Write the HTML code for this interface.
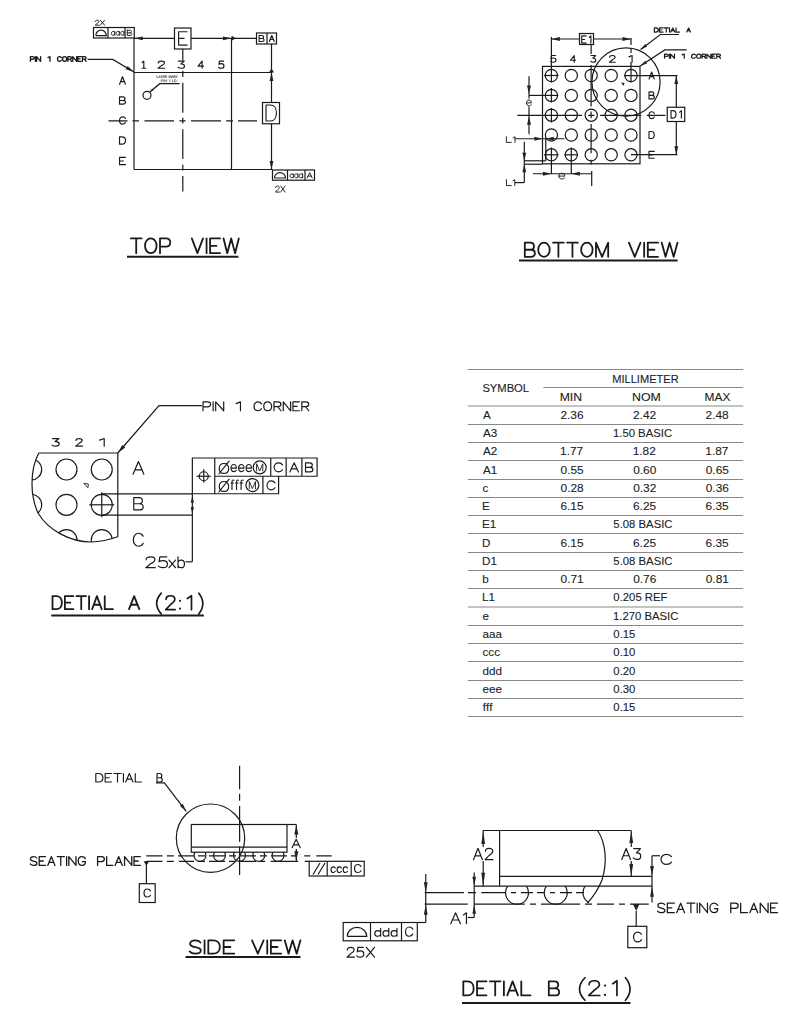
<!DOCTYPE html>
<html><head><meta charset="utf-8"><style>
html,body{margin:0;padding:0;background:#fff;}
svg{display:block;}
text{font-family:"Liberation Sans",sans-serif;fill:#222;font-kerning:none;}
path,rect,circle{fill:none;stroke:#1a1a1a;stroke-width:1.2;}
path.f,circle.dot{fill:#222;stroke:none;}
text.tb{stroke:#222;stroke-width:0.1;}
path.t{vector-effect:non-scaling-stroke;stroke-linecap:round;stroke-linejoin:round;}
</style></head><body>
<svg width="800" height="1028" viewBox="0 0 800 1028">
<path class="t" transform="translate(95.23,20.23) scale(0.6230,0.4945)" d="M 0.2,2.6 C 0.2,1 1.4,0 3.1,0 C 4.8,0 6,1 6,2.6 C 6,4 5,5 3.2,6.3 L 0,10 H 6.2 M 8.2,0 L 15,10 M 15,0 L 8.2,10" style="stroke-width:0.95;"/>
<rect x="93.50" y="27.50" width="40.80" height="10.50"/>
<path d="M108.00,27.50 V38.00"/>
<path d="M125.00,27.50 V38.00"/>
<path d="M95.80,35.60 H106.30 A5.25,5.40 0 0 0 95.80,35.60"/>
<path class="t" transform="translate(111.33,29.78) scale(0.5965,0.5493)" d="M 5.6,3 V 10 M 5.6,4.6 C 5,3.6 4.1,3 3,3 C 1.2,3 0,4.5 0,6.5 C 0,8.5 1.2,10 3,10 C 4.1,10 5,9.4 5.6,8.4 M 13.4,3 V 10 M 13.4,4.6 C 12.8,3.6 11.9,3 10.8,3 C 9,3 7.8,4.5 7.8,6.5 C 7.8,8.5 9,10 10.8,10 C 11.9,10 12.8,9.4 13.4,8.4 M 21.2,3 V 10 M 21.2,4.6 C 20.6,3.6 19.7,3 18.6,3 C 16.8,3 15.6,4.5 15.6,6.5 C 15.6,8.5 16.8,10 18.6,10 C 19.7,10 20.6,9.4 21.2,8.4" style="stroke-width:0.95;"/>
<path class="t" transform="translate(127.23,30.23) scale(0.7038,0.5245)" d="M 0,0 V 10 H 4 C 5.6,10 6.6,9 6.6,7.5 C 6.6,6 5.6,5 4,5 H 0 M 0,0 H 3.6 C 5.1,0 6,0.9 6,2.5 C 6,4.1 5.1,5 3.6,5" style="stroke-width:0.95;"/>
<path d="M134.00,38.30 H174.50 M191.00,38.30 H256.50"/>
<path class="f" d="M134.30,38.30 L142.80,36.40 L142.80,40.20 Z"/>
<path class="f" d="M231.50,38.30 L223.00,40.20 L223.00,36.40 Z"/>
<path class="f" d="M231.50,35.80 L236.00,38.30 L231.50,40.80 Z"/>
<rect x="174.50" y="28.00" width="16.50" height="21.00"/>
<path class="t" transform="translate(178.62,31.72) scale(1.3653,1.3365)" d="M 6.2,0 H 0 V 10 H 6.2 M 0,5 H 4" style="stroke-width:1.15;"/>
<rect x="256.50" y="33.00" width="20.00" height="11.00"/>
<path d="M267.00,33.00 V44.00"/>
<path class="t" transform="translate(259.12,35.52) scale(0.7523,0.5965)" d="M 0,0 V 10 H 4 C 5.6,10 6.6,9 6.6,7.5 C 6.6,6 5.6,5 4,5 H 0 M 0,0 H 3.6 C 5.1,0 6,0.9 6,2.5 C 6,4.1 5.1,5 3.6,5" style="stroke-width:1.15;"/>
<path class="t" transform="translate(269.32,35.52) scale(0.7093,0.5965)" d="M 0,10 L 3.5,0 L 7,10 M 1.25,6.6 H 5.75" style="stroke-width:1.15;"/>
<path d="M134.00,38.00 V169.50"/>
<path d="M231.50,38.30 V169.50"/>
<path d="M134.00,72.50 H271.50"/>
<path d="M134.00,169.50 H272.50"/>
<path d="M271.50,44.00 V102.50 M271.50,123.75 V169.50"/>
<path class="f" d="M269.00,72.50 L271.50,68.20 L274.00,72.50 Z"/>
<path class="f" d="M271.50,72.50 L273.40,81.00 L269.60,81.00 Z"/>
<path class="f" d="M271.50,169.50 L269.60,161.00 L273.40,161.00 Z"/>
<rect x="262.50" y="102.50" width="17.00" height="21.25"/>
<path class="t" transform="translate(266.02,105.02) scale(1.5390,1.5965)" d="M 0,0 V 10 H 2.8 C 5.2,10 6.8,8 6.8,5 C 6.8,2 5.2,0 2.8,0 Z" style="stroke-width:1.15;"/>
<rect x="272.50" y="170.00" width="42.00" height="10.20"/>
<path d="M287.50,170.00 V180.20"/>
<path d="M305.00,170.00 V180.20"/>
<path d="M274.50,178.00 H285.50 A5.50,5.40 0 0 0 274.50,178.00"/>
<path class="t" transform="translate(289.93,172.14) scale(0.5965,0.5636)" d="M 5.6,3 V 10 M 5.6,4.6 C 5,3.6 4.1,3 3,3 C 1.2,3 0,4.5 0,6.5 C 0,8.5 1.2,10 3,10 C 4.1,10 5,9.4 5.6,8.4 M 13.4,3 V 10 M 13.4,4.6 C 12.8,3.6 11.9,3 10.8,3 C 9,3 7.8,4.5 7.8,6.5 C 7.8,8.5 9,10 10.8,10 C 11.9,10 12.8,9.4 13.4,8.4 M 21.2,3 V 10 M 21.2,4.6 C 20.6,3.6 19.7,3 18.6,3 C 16.8,3 15.6,4.5 15.6,6.5 C 15.6,8.5 16.8,10 18.6,10 C 19.7,10 20.6,9.4 21.2,8.4" style="stroke-width:0.95;"/>
<path class="t" transform="translate(307.23,172.63) scale(0.7064,0.5245)" d="M 0,10 L 3.5,0 L 7,10 M 1.25,6.6 H 5.75" style="stroke-width:0.95;"/>
<path class="t" transform="translate(275.43,186.03) scale(0.6430,0.6045)" d="M 0.2,2.6 C 0.2,1 1.4,0 3.1,0 C 4.8,0 6,1 6,2.6 C 6,4 5,5 3.2,6.3 L 0,10 H 6.2 M 8.2,0 L 15,10 M 15,0 L 8.2,10" style="stroke-width:0.95;"/>
<path class="t" transform="translate(141.52,61.12) scale(1.0434,0.7165)" d="M 0.6,2 L 2.2,0 V 10 M 0.6,10 H 3.8" style="stroke-width:1.15;"/>
<path class="t" transform="translate(158.02,61.12) scale(1.0775,0.7165)" d="M 0.2,2.6 C 0.2,1 1.4,0 3.1,0 C 4.8,0 6,1 6,2.6 C 6,4 5,5 3.2,6.3 L 0,10 H 6.2" style="stroke-width:1.15;"/>
<path class="t" transform="translate(178.02,61.12) scale(1.0775,0.7165)" d="M 0.4,0 H 5.8 L 2.6,4 H 3.2 C 5,4 6,5.2 6,7 C 6,8.8 4.8,10 3,10 C 1.6,10 0.6,9.4 0,8.6" style="stroke-width:1.15;"/>
<path class="t" transform="translate(198.02,61.12) scale(0.8539,0.7165)" d="M 4.8,10 V 0 L 0,7 H 6.4" style="stroke-width:1.15;"/>
<path class="t" transform="translate(218.52,61.12) scale(0.9108,0.7165)" d="M 5.6,0 H 1 L 0.5,4.5 C 1.1,3.9 2,3.6 3,3.6 C 4.8,3.6 6,4.9 6,6.8 C 6,8.7 4.8,10 3,10 C 1.6,10 0.6,9.4 0,8.6" style="stroke-width:1.15;"/>
<path class="t" transform="translate(119.52,76.82) scale(0.8521,0.7365)" d="M 0,10 L 3.5,0 L 7,10 M 1.25,6.6 H 5.75" style="stroke-width:1.15;"/>
<path class="t" transform="translate(119.52,96.82) scale(0.9038,0.7365)" d="M 0,0 V 10 H 4 C 5.6,10 6.6,9 6.6,7.5 C 6.6,6 5.6,5 4,5 H 0 M 0,0 H 3.6 C 5.1,0 6,0.9 6,2.5 C 6,4.1 5.1,5 3.6,5" style="stroke-width:1.15;"/>
<path class="t" transform="translate(119.52,116.82) scale(0.8521,0.7365)" d="M 7,2.3 C 6.3,0.8 5.1,0 3.7,0 C 1.6,0 0,2.1 0,5 C 0,7.9 1.6,10 3.7,10 C 5.1,10 6.3,9.2 7,7.7" style="stroke-width:1.15;"/>
<path class="t" transform="translate(119.52,136.82) scale(0.8772,0.7365)" d="M 0,0 V 10 H 2.8 C 5.2,10 6.8,8 6.8,5 C 6.8,2 5.2,0 2.8,0 Z" style="stroke-width:1.15;"/>
<path class="t" transform="translate(119.52,157.32) scale(0.9621,0.7365)" d="M 6.2,0 H 0 V 10 H 6.2 M 0,5 H 4" style="stroke-width:1.15;"/>
<path class="t" transform="translate(30.39,56.59) scale(0.5683,0.4730)" d="M 0,10 V 0 H 3.8 C 5.6,0 6.6,1.1 6.6,2.8 C 6.6,4.5 5.6,5.6 3.8,5.6 H 0 M 8.8,0 V 10 M 11,10 V 0 L 18,10 V 0" style="stroke-width:1.3;"/>
<path class="t" transform="translate(47.98,56.59) scale(0.9227,0.4730)" d="M 0,2 L 2.2,0 V 10" style="stroke-width:1.3;"/>
<path class="t" transform="translate(57.48,56.59) scale(0.5516,0.4730)" d="M 7,2.3 C 6.3,0.8 5.1,0 3.7,0 C 1.6,0 0,2.1 0,5 C 0,7.9 1.6,10 3.7,10 C 5.1,10 6.3,9.2 7,7.7 M 12.95,0 C 10.8,0 9.2,2.1 9.2,5 C 9.2,7.9 10.8,10 12.95,10 C 15.1,10 16.7,7.9 16.7,5 C 16.7,2.1 15.1,0 12.95,0 Z M 18.9,10 V 0 H 22.7 C 24.5,0 25.5,1.1 25.5,2.7 C 25.5,4.3 24.5,5.3 22.7,5.3 H 18.9 M 22.5,5.3 L 25.5,10 M 27.7,10 V 0 L 34.7,10 V 0 M 43.1,0 H 36.9 V 10 H 43.1 M 36.9,5 H 40.9 M 45.3,10 V 0 H 49.1 C 50.9,0 51.9,1.1 51.9,2.7 C 51.9,4.3 50.9,5.3 49.1,5.3 H 45.3 M 48.9,5.3 L 51.9,10" style="stroke-width:1.3;"/>
<path d="M87.50,59.40 L112.75,59.40 L134.00,72.00"/>
<path class="f" d="M134.00,72.00 L125.72,69.30 L127.66,66.03 Z"/>
<path d="M108.50,120.80 H127.50 M132.50,120.80 H139.00 M144.50,120.80 H174.00 M179.50,120.80 H185.50 M191.00,120.80 H221.00 M226.20,120.80 H233.00 M238.00,120.80 H257.00"/>
<path d="M182.80,49.00 V60.60 M182.80,70.70 V76.90 M182.80,82.70 V112.70 M182.80,117.80 V123.50 M182.80,129.30 V158.90 M182.80,164.70 V170.60 M182.80,176.00 V191.60"/>
<path class="t" transform="translate(156.77,75.57) scale(0.2164,0.2060)" d="M 0,0 V 10 H 6 M 9.5,10 L 13,0 L 16.5,10 M 10.75,6.6 H 15.25 M 26.4,1.6 C 25.8,0.6 24.8,0 23.4,0 C 21.5,0 20.3,1 20.3,2.6 C 20.3,4.2 21.6,4.8 23.4,5.1 C 25.3,5.5 26.6,6.2 26.6,7.7 C 26.6,9.2 25.3,10 23.4,10 C 21.9,10 20.7,9.4 20,8.3 M 36.3,0 H 30.1 V 10 H 36.3 M 30.1,5 H 34.1 M 39.8,10 V 0 H 43.6 C 45.4,0 46.4,1.1 46.4,2.7 C 46.4,4.3 45.4,5.3 43.6,5.3 H 39.8 M 43.4,5.3 L 46.4,10 M 56.4,10 V 0 L 60.4,10 L 64.4,0 V 10 M 67.9,10 L 71.4,0 L 74.9,10 M 69.15,6.6 H 73.65 M 78.4,10 V 0 H 82.2 C 84,0 85,1.1 85,2.7 C 85,4.3 84,5.3 82.2,5.3 H 78.4 M 82,5.3 L 85,10 M 88.5,0 V 10 M 95,0 L 88.5,6.5 M 90.8,4.3 L 95,10" style="stroke-width:0.6;stroke:#555;"/>
<path class="t" transform="translate(161.27,79.67) scale(0.2637,0.2160)" d="M 0,10 V 0 H 3.8 C 5.6,0 6.6,1.1 6.6,2.8 C 6.6,4.5 5.6,5.6 3.8,5.6 H 0 M 10.1,0 V 10 M 13.6,10 V 0 L 20.6,10 V 0 M 30.6,2 L 32.8,0 V 10 M 42.8,0 V 10 M 46.3,9.6 h 0.4 M 50.2,0 V 10 H 53 C 55.4,10 57,8 57,5 C 57,2 55.4,0 53,0 Z M 60.5,9.6 h 0.4" style="stroke-width:0.6;stroke:#555;"/>
<path d="M179.50,83.70 L159.75,83.70 L149.80,92.00"/>
<path class="f" d="M149.80,92.00 L152.23,88.67 L153.51,90.21 Z"/>
<circle cx="147.00" cy="95.30" r="4.00"/>
<path class="t" transform="translate(130.81,238.41) scale(1.5443,1.4780)" d="M 0,0 H 7 M 3.5,0 V 10 M 12.95,0 C 10.8,0 9.2,2.1 9.2,5 C 9.2,7.9 10.8,10 12.95,10 C 15.1,10 16.7,7.9 16.7,5 C 16.7,2.1 15.1,0 12.95,0 Z M 18.9,10 V 0 H 22.7 C 24.5,0 25.5,1.1 25.5,2.8 C 25.5,4.5 24.5,5.6 22.7,5.6 H 18.9" style="stroke-width:1.8;"/>
<path class="t" transform="translate(191.81,238.41) scale(1.6034,1.4780)" d="M 0,0 L 3.5,10 L 7,0 M 9.2,0 V 10 M 17.6,0 H 11.4 V 10 H 17.6 M 11.4,5 H 15.4 M 19.8,0 L 22.1,10 L 24.55,0 L 27,10 L 29.3,0" style="stroke-width:1.8;"/>
<path d="M127.00,256.80 H238.40" style="stroke-width:2;"/>
<rect x="542.50" y="66.40" width="97.50" height="97.40"/>
<circle cx="551.40" cy="75.50" r="6.10"/>
<circle cx="551.40" cy="95.40" r="6.10"/>
<circle cx="551.40" cy="115.20" r="6.10"/>
<circle cx="551.40" cy="135.00" r="6.10"/>
<circle cx="551.40" cy="154.80" r="6.10"/>
<circle cx="571.30" cy="75.50" r="6.10"/>
<circle cx="571.30" cy="95.40" r="6.10"/>
<circle cx="571.30" cy="115.20" r="6.10"/>
<circle cx="571.30" cy="135.00" r="6.10"/>
<circle cx="571.30" cy="154.80" r="6.10"/>
<circle cx="591.20" cy="75.50" r="6.10"/>
<circle cx="591.20" cy="95.40" r="6.10"/>
<circle cx="591.20" cy="115.20" r="6.10"/>
<circle cx="591.20" cy="135.00" r="6.10"/>
<circle cx="591.20" cy="154.80" r="6.10"/>
<circle cx="611.20" cy="75.50" r="6.10"/>
<circle cx="611.20" cy="95.40" r="6.10"/>
<circle cx="611.20" cy="115.20" r="6.10"/>
<circle cx="611.20" cy="135.00" r="6.10"/>
<circle cx="611.20" cy="154.80" r="6.10"/>
<circle cx="631.00" cy="75.50" r="6.10"/>
<circle cx="631.00" cy="95.40" r="6.10"/>
<circle cx="631.00" cy="115.20" r="6.10"/>
<circle cx="631.00" cy="135.00" r="6.10"/>
<circle cx="631.00" cy="154.80" r="6.10"/>
<path class="t" transform="translate(550.52,55.52) scale(0.9108,0.6765)" d="M 5.6,0 H 1 L 0.5,4.5 C 1.1,3.9 2,3.6 3,3.6 C 4.8,3.6 6,4.9 6,6.8 C 6,8.7 4.8,10 3,10 C 1.6,10 0.6,9.4 0,8.6" style="stroke-width:1.15;"/>
<path class="t" transform="translate(570.52,55.52) scale(0.7758,0.6765)" d="M 4.8,10 V 0 L 0,7 H 6.4" style="stroke-width:1.15;"/>
<path class="t" transform="translate(590.77,55.52) scale(0.8275,0.6765)" d="M 0.4,0 H 5.8 L 2.6,4 H 3.2 C 5,4 6,5.2 6,7 C 6,8.8 4.8,10 3,10 C 1.6,10 0.6,9.4 0,8.6" style="stroke-width:1.15;"/>
<path class="t" transform="translate(609.52,55.52) scale(0.9275,0.6765)" d="M 0.2,2.6 C 0.2,1 1.4,0 3.1,0 C 4.8,0 6,1 6,2.6 C 6,4 5,5 3.2,6.3 L 0,10 H 6.2" style="stroke-width:1.15;"/>
<path class="t" transform="translate(628.92,55.52) scale(1.4386,0.6765)" d="M 0,2 L 2.2,0 V 10" style="stroke-width:1.15;"/>
<path class="t" transform="translate(649.02,72.02) scale(0.7521,0.6965)" d="M 0,10 L 3.5,0 L 7,10 M 1.25,6.6 H 5.75" style="stroke-width:1.15;"/>
<path class="t" transform="translate(649.02,91.92) scale(0.7977,0.6965)" d="M 0,0 V 10 H 4 C 5.6,10 6.6,9 6.6,7.5 C 6.6,6 5.6,5 4,5 H 0 M 0,0 H 3.6 C 5.1,0 6,0.9 6,2.5 C 6,4.1 5.1,5 3.6,5" style="stroke-width:1.15;"/>
<path class="t" transform="translate(649.02,111.72) scale(0.7521,0.6965)" d="M 7,2.3 C 6.3,0.8 5.1,0 3.7,0 C 1.6,0 0,2.1 0,5 C 0,7.9 1.6,10 3.7,10 C 5.1,10 6.3,9.2 7,7.7" style="stroke-width:1.15;"/>
<path class="t" transform="translate(649.02,131.52) scale(0.7743,0.6965)" d="M 0,0 V 10 H 2.8 C 5.2,10 6.8,8 6.8,5 C 6.8,2 5.2,0 2.8,0 Z" style="stroke-width:1.15;"/>
<path class="t" transform="translate(649.02,151.32) scale(0.8492,0.6965)" d="M 6.2,0 H 0 V 10 H 6.2 M 0,5 H 4" style="stroke-width:1.15;"/>
<path d="M551.40,39.00 H579.40 M594.00,39.00 H631.00"/>
<path class="f" d="M551.40,39.00 L559.90,37.10 L559.90,40.90 Z"/>
<path class="f" d="M631.00,39.00 L622.50,40.90 L622.50,37.10 Z"/>
<rect x="579.50" y="33.50" width="14.00" height="11.00"/>
<path class="t" transform="translate(581.72,35.82) scale(0.7202,0.7265)" d="M 6.2,0 H 0 V 10 H 6.2 M 0,5 H 4" style="stroke-width:1.15;"/>
<path class="t" transform="translate(589.32,35.82) scale(0.7114,0.7265)" d="M 0,2 L 2.2,0 V 10" style="stroke-width:1.15;"/>
<path d="M551.40,37.00 V82.50"/>
<path d="M631.00,38.00 V45.00 M631.00,48.00 V53.00 M631.00,62.00 V82.50"/>
<circle cx="626.00" cy="82.00" r="34.10"/>
<path class="t" transform="translate(654.34,27.94) scale(0.5709,0.4120)" d="M 0,0 V 10 H 2.8 C 5.2,10 6.8,8 6.8,5 C 6.8,2 5.2,0 2.8,0 Z M 15.2,0 H 9 V 10 H 15.2 M 9,5 H 13 M 17.4,0 H 24.4 M 20.9,0 V 10 M 26.6,0 V 10 M 28.8,10 L 32.3,0 L 35.8,10 M 30.05,6.6 H 34.55 M 38,0 V 10 H 44" style="stroke-width:1.2;"/>
<path class="t" transform="translate(686.74,27.94) scale(0.5314,0.4120)" d="M 0,10 L 3.5,0 L 7,10 M 1.25,6.6 H 5.75" style="stroke-width:1.2;"/>
<path d="M679.00,34.50 L660.40,34.50 L640.60,49.40"/>
<path class="f" d="M640.60,49.40 L645.23,43.91 L647.16,46.47 Z"/>
<path class="t" transform="translate(664.54,54.04) scale(0.5511,0.4220)" d="M 0,10 V 0 H 3.8 C 5.6,0 6.6,1.1 6.6,2.8 C 6.6,4.5 5.6,5.6 3.8,5.6 H 0 M 8.8,0 V 10 M 11,10 V 0 L 18,10 V 0" style="stroke-width:1.2;"/>
<path class="t" transform="translate(682.14,54.04) scale(0.9636,0.4220)" d="M 0,2 L 2.2,0 V 10" style="stroke-width:1.2;"/>
<path class="t" transform="translate(691.54,54.04) scale(0.5572,0.4220)" d="M 7,2.3 C 6.3,0.8 5.1,0 3.7,0 C 1.6,0 0,2.1 0,5 C 0,7.9 1.6,10 3.7,10 C 5.1,10 6.3,9.2 7,7.7 M 12.95,0 C 10.8,0 9.2,2.1 9.2,5 C 9.2,7.9 10.8,10 12.95,10 C 15.1,10 16.7,7.9 16.7,5 C 16.7,2.1 15.1,0 12.95,0 Z M 18.9,10 V 0 H 22.7 C 24.5,0 25.5,1.1 25.5,2.7 C 25.5,4.3 24.5,5.3 22.7,5.3 H 18.9 M 22.5,5.3 L 25.5,10 M 27.7,10 V 0 L 34.7,10 V 0 M 43.1,0 H 36.9 V 10 H 43.1 M 36.9,5 H 40.9 M 45.3,10 V 0 H 49.1 C 50.9,0 51.9,1.1 51.9,2.7 C 51.9,4.3 50.9,5.3 49.1,5.3 H 45.3 M 48.9,5.3 L 51.9,10" style="stroke-width:1.2;"/>
<path d="M686.60,49.90 L664.75,49.90 L640.25,66.00"/>
<path class="f" d="M640.25,66.00 L645.22,60.82 L646.98,63.49 Z"/>
<path d="M676.30,75.60 V107.25 M676.30,121.50 V154.70"/>
<path class="f" d="M676.30,75.60 L678.20,84.10 L674.40,84.10 Z"/>
<path class="f" d="M676.30,154.70 L674.40,146.20 L678.20,146.20 Z"/>
<path d="M624.00,75.60 H677.50"/>
<path d="M631.00,154.70 H677.50"/>
<rect x="667.25" y="107.25" width="17.50" height="14.25"/>
<path class="t" transform="translate(671.02,110.62) scale(0.7301,0.7465)" d="M 0,0 V 10 H 2.8 C 5.2,10 6.8,8 6.8,5 C 6.8,2 5.2,0 2.8,0 Z" style="stroke-width:1.15;"/>
<path class="t" transform="translate(679.62,110.62) scale(0.8023,0.7465)" d="M 0,2 L 2.2,0 V 10" style="stroke-width:1.15;"/>
<path d="M551.40,82.50 V82.50"/>
<path d="M544.00,75.50 H558.50"/>
<path d="M529.00,95.40 H558.30"/>
<path d="M551.40,88.00 V102.50"/>
<path d="M551.40,108.00 V122.50"/>
<path d="M551.40,147.50 V173.75"/>
<path d="M544.00,154.80 H558.50"/>
<path d="M571.30,147.50 V173.75"/>
<path d="M564.50,154.80 H578.00"/>
<path d="M517.30,115.30 H582.00 M588.20,115.30 H594.40 M600.10,115.30 H641.20 M646.80,115.30 H665.40"/>
<path d="M591.10,44.70 V54.00 M591.10,64.90 V106.50 M591.10,111.60 V118.20 M591.10,124.00 V153.20 M591.10,159.80 V164.50"/>
<path class="f" d="M621.00,82.50 L624.50,83.00 L623.50,86.00 Z"/>
<path d="M529.00,76.30 V98.50 M529.00,106.50 V134.25"/>
<path class="f" d="M529.00,93.50 L527.00,85.50 L531.00,85.50 Z"/>
<path class="t" transform="translate(526.43,97.38) scale(0.8830,0.8493)" d="M 0,6.5 H 5.6 C 5.6,4.4 4.5,3 2.9,3 C 1.2,3 0,4.5 0,6.5 C 0,8.5 1.2,10 2.9,10 C 4,10 4.9,9.5 5.5,8.6" style="stroke-width:0.95;"/>
<path class="f" d="M529.00,116.80 L531.00,124.80 L527.00,124.80 Z"/>
<path class="t" transform="translate(506.33,136.73) scale(0.8312,0.5645)" d="M 0,0 V 10 H 6 M 8.2,2 L 10.4,0 V 10" style="stroke-width:0.95;"/>
<path d="M515.00,138.75 H564.50"/>
<path class="f" d="M542.40,138.75 L534.40,140.65 L534.40,136.85 Z"/>
<path class="f" d="M545.80,138.75 L553.80,136.85 L553.80,140.65 Z"/>
<path d="M545.80,138.75 V160.80"/>
<path d="M524.30,141.70 V182.60"/>
<path class="f" d="M524.30,160.80 L522.40,152.80 L526.20,152.80 Z"/>
<path class="f" d="M524.30,164.20 L526.20,172.20 L522.40,172.20 Z"/>
<path d="M524.30,160.80 H545.80"/>
<path d="M524.30,164.20 H542.50"/>
<path d="M515.00,182.60 H524.30"/>
<path class="t" transform="translate(506.43,179.63) scale(0.8024,0.5945)" d="M 0,0 V 10 H 6 M 8.2,2 L 10.4,0 V 10" style="stroke-width:0.95;"/>
<path d="M532.90,173.75 H591.70"/>
<path class="f" d="M551.40,173.75 L542.90,175.65 L542.90,171.85 Z"/>
<path class="f" d="M571.30,173.75 L579.80,171.85 L579.80,175.65 Z"/>
<path d="M591.70,171.00 V186.00"/>
<path class="t" transform="translate(558.83,170.77) scale(1.0616,0.8207)" d="M 0,6.5 H 5.6 C 5.6,4.4 4.5,3 2.9,3 C 1.2,3 0,4.5 0,6.5 C 0,8.5 1.2,10 2.9,10 C 4,10 4.9,9.5 5.5,8.6" style="stroke-width:0.95;"/>
<path class="t" transform="translate(524.81,242.71) scale(1.5271,1.4080)" d="M 0,0 V 10 H 4 C 5.6,10 6.6,9 6.6,7.5 C 6.6,6 5.6,5 4,5 H 0 M 0,0 H 3.6 C 5.1,0 6,0.9 6,2.5 C 6,4.1 5.1,5 3.6,5 M 12.55,0 C 10.4,0 8.8,2.1 8.8,5 C 8.8,7.9 10.4,10 12.55,10 C 14.7,10 16.3,7.9 16.3,5 C 16.3,2.1 14.7,0 12.55,0 Z M 18.5,0 H 25.5 M 22,0 V 10 M 27.7,0 H 34.7 M 31.2,0 V 10 M 40.65,0 C 38.5,0 36.9,2.1 36.9,5 C 36.9,7.9 38.5,10 40.65,10 C 42.8,10 44.4,7.9 44.4,5 C 44.4,2.1 42.8,0 40.65,0 Z M 46.6,10 V 0 L 50.6,10 L 54.6,0 V 10" style="stroke-width:1.8;"/>
<path class="t" transform="translate(628.91,242.71) scale(1.6580,1.4080)" d="M 0,0 L 3.5,10 L 7,0 M 9.2,0 V 10 M 17.6,0 H 11.4 V 10 H 17.6 M 11.4,5 H 15.4 M 19.8,0 L 22.1,10 L 24.55,0 L 27,10 L 29.3,0" style="stroke-width:1.8;"/>
<path d="M519.00,260.50 H677.60" style="stroke-width:2;"/>
<clipPath id="clipA"><path d="M38.75,453 H117.8 V536.75 C110,539.6 100,541.8 91.25,542 C70,542 48,530 38,513 C33.5,503 32,493 32,483.5 C32,472 34.5,461 38.75,453 Z"/></clipPath>
<path d="M38.75,453 H117.8 V536.75 C110,539.6 100,541.8 91.25,542 C70,542 48,530 38,513 C33.5,503 32,493 32,483.5 C32,472 34.5,461 38.75,453"/>
<g clip-path="url(#clipA)">
<circle cx="31.20" cy="469.50" r="10.50"/>
<circle cx="31.20" cy="504.80" r="10.50"/>
<circle cx="31.20" cy="540.10" r="10.50"/>
<circle cx="66.50" cy="469.50" r="10.50"/>
<circle cx="66.50" cy="504.80" r="10.50"/>
<circle cx="66.50" cy="540.10" r="10.50"/>
<circle cx="101.75" cy="469.50" r="10.50"/>
<circle cx="101.75" cy="504.80" r="10.50"/>
<circle cx="101.75" cy="540.10" r="10.50"/>
</g>
<path class="t" transform="translate(52.04,438.54) scale(1.1950,0.7620)" d="M 0.4,0 H 5.8 L 2.6,4 H 3.2 C 5,4 6,5.2 6,7 C 6,8.8 4.8,10 3,10 C 1.6,10 0.6,9.4 0,8.6" style="stroke-width:1.2;"/>
<path class="t" transform="translate(75.74,438.54) scale(1.0700,0.7620)" d="M 0.2,2.6 C 0.2,1 1.4,0 3.1,0 C 4.8,0 6,1 6,2.6 C 6,4 5,5 3.2,6.3 L 0,10 H 6.2" style="stroke-width:1.2;"/>
<path class="t" transform="translate(99.54,438.54) scale(2.1227,0.7620)" d="M 0,2 L 2.2,0 V 10" style="stroke-width:1.2;"/>
<path d="M83.8,483.3 L88.4,484.1 L87.9,487.8 Z" style="stroke-width:0.9"/>
<path d="M89.30,504.80 H114.20"/>
<path d="M101.75,492.20 V517.25"/>
<path d="M101.75,493.90 H192.35"/>
<path d="M101.75,515.10 H192.35"/>
<path class="t" transform="translate(133.04,461.54) scale(1.5457,1.2620)" d="M 0,10 L 3.5,0 L 7,10 M 1.25,6.6 H 5.75" style="stroke-width:1.2;"/>
<path class="t" transform="translate(133.79,497.54) scale(1.4273,1.2420)" d="M 0,0 V 10 H 4 C 5.6,10 6.6,9 6.6,7.5 C 6.6,6 5.6,5 4,5 H 0 M 0,0 H 3.6 C 5.1,0 6,0.9 6,2.5 C 6,4.1 5.1,5 3.6,5" style="stroke-width:1.2;"/>
<path class="t" transform="translate(133.34,533.24) scale(1.4100,1.3020)" d="M 7,2.3 C 6.3,0.8 5.1,0 3.7,0 C 1.6,0 0,2.1 0,5 C 0,7.9 1.6,10 3.7,10 C 5.1,10 6.3,9.2 7,7.7" style="stroke-width:1.2;"/>
<path class="t" transform="translate(203.04,401.84) scale(1.1483,0.8920)" d="M 0,10 V 0 H 3.8 C 5.6,0 6.6,1.1 6.6,2.8 C 6.6,4.5 5.6,5.6 3.8,5.6 H 0 M 8.8,0 V 10 M 11,10 V 0 L 18,10 V 0" style="stroke-width:1.2;"/>
<path class="t" transform="translate(236.04,401.84) scale(2.0091,0.8920)" d="M 0,2 L 2.2,0 V 10" style="stroke-width:1.2;"/>
<path class="t" transform="translate(254.04,401.84) scale(1.0543,0.8920)" d="M 7,2.3 C 6.3,0.8 5.1,0 3.7,0 C 1.6,0 0,2.1 0,5 C 0,7.9 1.6,10 3.7,10 C 5.1,10 6.3,9.2 7,7.7 M 12.95,0 C 10.8,0 9.2,2.1 9.2,5 C 9.2,7.9 10.8,10 12.95,10 C 15.1,10 16.7,7.9 16.7,5 C 16.7,2.1 15.1,0 12.95,0 Z M 18.9,10 V 0 H 22.7 C 24.5,0 25.5,1.1 25.5,2.7 C 25.5,4.3 24.5,5.3 22.7,5.3 H 18.9 M 22.5,5.3 L 25.5,10 M 27.7,10 V 0 L 34.7,10 V 0 M 43.1,0 H 36.9 V 10 H 43.1 M 36.9,5 H 40.9 M 45.3,10 V 0 H 49.1 C 50.9,0 51.9,1.1 51.9,2.7 C 51.9,4.3 50.9,5.3 49.1,5.3 H 45.3 M 48.9,5.3 L 51.9,10" style="stroke-width:1.2;"/>
<path d="M202.00,405.70 L159.00,405.70 L117.80,453.00"/>
<path class="f" d="M117.80,453.00 L122.20,444.90 L125.22,447.53 Z"/>
<path d="M192.35,458 H317.1 V476.25 H278.6 V493.75 H192.35 Z M214.75,458 V493.75 M214.75,476.25 H317.1 M270.75,458 V476.25 M286.15,458 V476.25 M301.9,458 V476.25 M262.9,476.25 V493.75"/>
<circle cx="203.75" cy="476.25" r="4.50"/>
<path d="M196.50,476.25 H210.75"/>
<path d="M203.75,469.25 V482.75"/>
<path class="t" transform="translate(218.82,461.61) scale(1.4664,1.1786)" d="M 3.5,1.6 C 1.6,1.6 0.3,3.1 0.3,6 C 0.3,8.9 1.6,10 3.5,10 C 5.4,10 6.7,8.9 6.7,6 C 6.7,3.1 5.4,1.6 3.5,1.6 Z M 0,10.5 L 7,-0.5" style="stroke-width:1.15;"/>
<path class="t" transform="translate(231.02,461.45) scale(0.9653,1.0236)" d="M 0,6.5 H 5.6 C 5.6,4.4 4.5,3 2.9,3 C 1.2,3 0,4.5 0,6.5 C 0,8.5 1.2,10 2.9,10 C 4,10 4.9,9.5 5.5,8.6 M 7.8,6.5 H 13.4 C 13.4,4.4 12.3,3 10.7,3 C 9,3 7.8,4.5 7.8,6.5 C 7.8,8.5 9,10 10.7,10 C 11.8,10 12.7,9.5 13.3,8.6 M 15.6,6.5 H 21.2 C 21.2,4.4 20.1,3 18.5,3 C 16.8,3 15.6,4.5 15.6,6.5 C 15.6,8.5 16.8,10 18.5,10 C 19.6,10 20.5,9.5 21.1,8.6" style="stroke-width:1.15;"/>
<circle cx="259.70" cy="467.40" r="6.50"/>
<path class="t" transform="translate(256.60,463.80) scale(0.7738,0.7190)" d="M 0,10 V 0 L 4,10 L 8,0 V 10" style="stroke-width:0.9;"/>
<path class="t" transform="translate(274.12,462.82) scale(1.1950,0.9065)" d="M 7,2.3 C 6.3,0.8 5.1,0 3.7,0 C 1.6,0 0,2.1 0,5 C 0,7.9 1.6,10 3.7,10 C 5.1,10 6.3,9.2 7,7.7" style="stroke-width:1.15;"/>
<path class="t" transform="translate(289.82,462.82) scale(1.2379,0.9065)" d="M 0,10 L 3.5,0 L 7,10 M 1.25,6.6 H 5.75" style="stroke-width:1.15;"/>
<path class="t" transform="translate(305.52,462.82) scale(1.1311,0.9065)" d="M 0,0 V 10 H 4 C 5.6,10 6.6,9 6.6,7.5 C 6.6,6 5.6,5 4,5 H 0 M 0,0 H 3.6 C 5.1,0 6,0.9 6,2.5 C 6,4.1 5.1,5 3.6,5" style="stroke-width:1.15;"/>
<path class="t" transform="translate(218.82,479.61) scale(1.4664,1.1786)" d="M 3.5,1.6 C 1.6,1.6 0.3,3.1 0.3,6 C 0.3,8.9 1.6,10 3.5,10 C 5.4,10 6.7,8.9 6.7,6 C 6.7,3.1 5.4,1.6 3.5,1.6 Z M 0,10.5 L 7,-0.5" style="stroke-width:1.15;"/>
<path class="t" transform="translate(231.02,480.02) scale(0.7357,0.9365)" d="M 4,0.2 C 3.7,0.1 3.3,0 3,0 C 1.9,0 1.3,0.6 1.3,2 V 10 M 0,3.2 H 3.4 M 10.2,0.2 C 9.9,0.1 9.5,0 9.2,0 C 8.1,0 7.5,0.6 7.5,2 V 10 M 6.2,3.2 H 9.6 M 16.4,0.2 C 16.1,0.1 15.7,0 15.4,0 C 14.3,0 13.7,0.6 13.7,2 V 10 M 12.4,3.2 H 15.8" style="stroke-width:1.15;"/>
<circle cx="252.40" cy="485.10" r="6.50"/>
<path class="t" transform="translate(249.31,481.50) scale(0.7737,0.7190)" d="M 0,10 V 0 L 4,10 L 8,0 V 10" style="stroke-width:0.9;"/>
<path class="t" transform="translate(267.02,480.82) scale(1.1379,0.9065)" d="M 7,2.3 C 6.3,0.8 5.1,0 3.7,0 C 1.6,0 0,2.1 0,5 C 0,7.9 1.6,10 3.7,10 C 5.1,10 6.3,9.2 7,7.7" style="stroke-width:1.15;"/>
<path d="M192.35,493.75 V561.80"/>
<path class="f" d="M192.35,495.80 L193.95,502.80 L190.75,502.80 Z"/>
<path class="f" d="M192.35,513.90 L190.75,506.90 L193.95,506.90 Z"/>
<path d="M185.50,561.80 H192.35"/>
<path class="t" transform="translate(145.79,556.79) scale(1.5261,1.0920)" d="M 0.2,2.6 C 0.2,1 1.4,0 3.1,0 C 4.8,0 6,1 6,2.6 C 6,4 5,5 3.2,6.3 L 0,10 H 6.2 M 13.8,0 H 9.2 L 8.7,4.5 C 9.3,3.9 10.2,3.6 11.2,3.6 C 13,3.6 14.2,4.9 14.2,6.8 C 14.2,8.7 13,10 11.2,10 C 9.8,10 8.8,9.4 8.2,8.6" style="stroke-width:1.2;"/>
<path class="t" transform="translate(169.04,556.79) scale(1.1507,1.0920)" d="M 0,3 L 5.6,10 M 5.6,3 L 0,10 M 7.8,0 V 10 M 7.8,4.6 C 8.4,3.6 9.3,3 10.4,3 C 12.2,3 13.4,4.5 13.4,6.5 C 13.4,8.5 12.2,10 10.4,10 C 9.3,10 8.4,9.4 7.8,8.4" style="stroke-width:1.2;"/>
<path class="t" transform="translate(52.51,596.11) scale(1.3745,1.3080)" d="M 0,0 V 10 H 2.8 C 5.2,10 6.8,8 6.8,5 C 6.8,2 5.2,0 2.8,0 Z M 15.2,0 H 9 V 10 H 15.2 M 9,5 H 13 M 17.4,0 H 24.4 M 20.9,0 V 10 M 26.6,0 V 10 M 28.8,10 L 32.3,0 L 35.8,10 M 30.05,6.6 H 34.55 M 38,0 V 10 H 44" style="stroke-width:1.8;"/>
<path class="t" transform="translate(129.01,596.11) scale(1.4686,1.3080)" d="M 0,10 L 3.5,0 L 7,10 M 1.25,6.6 H 5.75" style="stroke-width:1.8;"/>
<path class="t" transform="translate(156.66,595.12) scale(1.7962,1.6266)" d="M 2.6,-1.2 C 0.9,0.8 0,3 0,5.2 C 0,7.4 0.9,9.6 2.6,11.6" style="stroke-width:1.7;"/>
<path class="t" transform="translate(165.76,595.76) scale(1.5117,1.3870)" d="M 0.2,2.6 C 0.2,1 1.4,0 3.1,0 C 4.8,0 6,1 6,2.6 C 6,4 5,5 3.2,6.3 L 0,10 H 6.2" style="stroke-width:1.7;"/>
<circle class="dot" cx="180.0" cy="600.8" r="1.15"/><circle class="dot" cx="180.0" cy="608.6" r="1.15"/>
<path class="t" transform="translate(187.36,595.76) scale(1.8727,1.3870)" d="M 0,2 L 2.2,0 V 10" style="stroke-width:1.7;"/>
<path class="t" transform="translate(198.76,595.12) scale(1.5654,1.6266)" d="M 0,-1.2 C 1.7,0.8 2.6,3 2.6,5.2 C 2.6,7.4 1.7,9.6 0,11.6" style="stroke-width:1.7;"/>
<path d="M51.25,615.60 H203.80" style="stroke-width:2;"/>
<path d="M467.75,369.50 H743.2 M467.75,406.00 H743.2 M467.75,424.50 H743.2 M467.75,442.50 H743.2 M467.75,460.50 H743.2 M467.75,479.50 H743.2 M467.75,497.50 H743.2 M467.75,515.50 H743.2 M467.75,533.50 H743.2 M467.75,552.50 H743.2 M467.75,570.50 H743.2 M467.75,588.50 H743.2 M467.75,607.00 H743.2 M467.75,625.50 H743.2 M467.75,643.50 H743.2 M467.75,661.50 H743.2 M467.75,680.50 H743.2 M467.75,698.50 H743.2 M467.75,716.50 H743.2 M543.3,387.5 H743.2" style="stroke:#888"/>
<text class="tb" transform="translate(482.39,391.90) scale(1.019,1)" font-size="11.00">SYMBOL</text>
<text class="tb" transform="translate(612.24,382.75) scale(1.008,1)" font-size="11.00">MILLIMETER</text>
<text class="tb" transform="translate(559.65,400.70) scale(1.114,1)" font-size="11.00">MIN</text>
<text class="tb" transform="translate(632.09,400.70) scale(1.123,1)" font-size="11.00">NOM</text>
<text class="tb" transform="translate(704.62,400.70) scale(1.086,1)" font-size="11.00">MAX</text>
<text class="tb" transform="translate(482.98,418.85) scale(1.060,1)" font-size="11.00">A</text>
<text class="tb" transform="translate(560.40,418.85) scale(1.080,1)" font-size="11.00">2.36</text>
<text class="tb" transform="translate(633.00,418.85) scale(1.080,1)" font-size="11.00">2.42</text>
<text class="tb" transform="translate(705.60,418.85) scale(1.080,1)" font-size="11.00">2.48</text>
<text class="tb" transform="translate(482.98,437.10) scale(1.060,1)" font-size="11.00">A3</text>
<text class="tb" transform="translate(612.94,437.10) scale(1.030,1)" font-size="11.00">1.50 BASIC</text>
<text class="tb" transform="translate(482.98,455.10) scale(1.060,1)" font-size="11.00">A2</text>
<text class="tb" transform="translate(560.10,455.10) scale(1.080,1)" font-size="11.00">1.77</text>
<text class="tb" transform="translate(632.70,455.10) scale(1.080,1)" font-size="11.00">1.82</text>
<text class="tb" transform="translate(705.30,455.10) scale(1.080,1)" font-size="11.00">1.87</text>
<text class="tb" transform="translate(482.98,473.60) scale(1.060,1)" font-size="11.00">A1</text>
<text class="tb" transform="translate(560.54,473.60) scale(1.080,1)" font-size="11.00">0.55</text>
<text class="tb" transform="translate(633.14,473.60) scale(1.080,1)" font-size="11.00">0.60</text>
<text class="tb" transform="translate(705.74,473.60) scale(1.080,1)" font-size="11.00">0.65</text>
<text class="tb" transform="translate(482.50,492.10) scale(1.060,1)" font-size="11.00">c</text>
<text class="tb" transform="translate(560.54,492.10) scale(1.080,1)" font-size="11.00">0.28</text>
<text class="tb" transform="translate(633.14,492.10) scale(1.080,1)" font-size="11.00">0.32</text>
<text class="tb" transform="translate(705.74,492.10) scale(1.080,1)" font-size="11.00">0.36</text>
<text class="tb" transform="translate(482.04,510.10) scale(1.060,1)" font-size="11.00">E</text>
<text class="tb" transform="translate(560.40,510.10) scale(1.080,1)" font-size="11.00">6.15</text>
<text class="tb" transform="translate(633.00,510.10) scale(1.080,1)" font-size="11.00">6.25</text>
<text class="tb" transform="translate(705.60,510.10) scale(1.080,1)" font-size="11.00">6.35</text>
<text class="tb" transform="translate(482.04,528.10) scale(1.060,1)" font-size="11.00">E1</text>
<text class="tb" transform="translate(613.35,528.10) scale(1.030,1)" font-size="11.00">5.08 BASIC</text>
<text class="tb" transform="translate(482.04,546.60) scale(1.060,1)" font-size="11.00">D</text>
<text class="tb" transform="translate(560.40,546.60) scale(1.080,1)" font-size="11.00">6.15</text>
<text class="tb" transform="translate(633.00,546.60) scale(1.080,1)" font-size="11.00">6.25</text>
<text class="tb" transform="translate(705.60,546.60) scale(1.080,1)" font-size="11.00">6.35</text>
<text class="tb" transform="translate(482.04,565.10) scale(1.060,1)" font-size="11.00">D1</text>
<text class="tb" transform="translate(613.35,565.10) scale(1.030,1)" font-size="11.00">5.08 BASIC</text>
<text class="tb" transform="translate(482.25,583.10) scale(1.060,1)" font-size="11.00">b</text>
<text class="tb" transform="translate(560.54,583.10) scale(1.080,1)" font-size="11.00">0.71</text>
<text class="tb" transform="translate(633.14,583.10) scale(1.080,1)" font-size="11.00">0.76</text>
<text class="tb" transform="translate(705.74,583.10) scale(1.080,1)" font-size="11.00">0.81</text>
<text class="tb" transform="translate(482.04,601.35) scale(1.060,1)" font-size="11.00">L1</text>
<text class="tb" transform="translate(613.36,601.35) scale(1.030,1)" font-size="11.00">0.205 REF</text>
<text class="tb" transform="translate(482.50,619.85) scale(1.060,1)" font-size="11.00">e</text>
<text class="tb" transform="translate(612.94,619.85) scale(1.030,1)" font-size="11.00">1.270 BASIC</text>
<text class="tb" transform="translate(482.50,638.10) scale(1.060,1)" font-size="11.00">aaa</text>
<text class="tb" transform="translate(613.36,638.10) scale(1.030,1)" font-size="11.00">0.15</text>
<text class="tb" transform="translate(482.50,656.10) scale(1.060,1)" font-size="11.00">ccc</text>
<text class="tb" transform="translate(613.36,656.10) scale(1.030,1)" font-size="11.00">0.10</text>
<text class="tb" transform="translate(482.51,674.60) scale(1.060,1)" font-size="11.00">ddd</text>
<text class="tb" transform="translate(613.36,674.60) scale(1.030,1)" font-size="11.00">0.20</text>
<text class="tb" transform="translate(482.50,693.10) scale(1.060,1)" font-size="11.00">eee</text>
<text class="tb" transform="translate(613.36,693.10) scale(1.030,1)" font-size="11.00">0.30</text>
<text class="tb" transform="translate(482.83,711.10) scale(1.060,1)" font-size="11.00">fff</text>
<text class="tb" transform="translate(613.36,711.10) scale(1.030,1)" font-size="11.00">0.15</text>
<path class="t" transform="translate(95.82,773.52) scale(1.0378,0.8465)" d="M 0,0 V 10 H 2.8 C 5.2,10 6.8,8 6.8,5 C 6.8,2 5.2,0 2.8,0 Z M 15.2,0 H 9 V 10 H 15.2 M 9,5 H 13 M 17.4,0 H 24.4 M 20.9,0 V 10 M 26.6,0 V 10 M 28.8,10 L 32.3,0 L 35.8,10 M 30.05,6.6 H 34.55 M 38,0 V 10 H 44" style="stroke-width:1.15;"/>
<path class="t" transform="translate(157.02,773.52) scale(0.7977,0.8465)" d="M 0,0 V 10 H 4 C 5.6,10 6.6,9 6.6,7.5 C 6.6,6 5.6,5 4,5 H 0 M 0,0 H 3.6 C 5.1,0 6,0.9 6,2.5 C 6,4.1 5.1,5 3.6,5" style="stroke-width:1.15;"/>
<path d="M156.00,782.80 L164.40,782.80 L186.20,811.30"/>
<path class="f" d="M186.20,811.30 L179.91,806.04 L182.77,803.85 Z"/>
<circle cx="210.50" cy="838.20" r="34.20"/>
<rect x="191.30" y="824.50" width="95.70" height="27.70"/>
<path d="M191.30,847.20 H287.00"/>
<clipPath id="clipS"><rect x="180" y="852.2" width="120" height="20"/></clipPath>
<g clip-path="url(#clipS)">
<circle cx="200.00" cy="855.40" r="5.90"/>
<circle cx="219.50" cy="855.40" r="5.90"/>
<circle cx="239.50" cy="855.40" r="5.90"/>
<circle cx="258.75" cy="855.40" r="5.90"/>
<circle cx="278.00" cy="855.40" r="5.90"/>
</g>
<path d="M146.30,855.80 H162.50 M166.90,855.80 H173.80 M178.00,855.80 H194.00 M198.00,855.80 H205.00 M209.00,855.80 H225.00 M229.00,855.80 H236.00 M240.00,855.80 H256.00 M260.00,855.80 H267.00 M271.00,855.80 H287.00 M291.00,855.80 H296.30 M304.30,855.80 H310.30 M316.30,855.80 H331.70"/>
<path d="M146.30,861.30 H162.50 M166.90,861.30 H173.80 M178.80,861.30 H194.00 M198.00,861.30 H205.00 M209.00,861.30 H225.00 M229.00,861.30 H236.00 M240.00,861.30 H256.00 M260.00,861.30 H265.00 M270.60,861.30 H298.30 M304.70,861.30 H309.50"/>
<path d="M239.60,765.80 V789.20 M239.60,793.80 V800.80 M239.60,806.00 V841.70 M239.60,846.30 V875.00"/>
<path d="M287.00,824.50 H296.30"/>
<path d="M296.30,824.50 V838.00 M296.30,849.00 V861.30"/>
<path class="f" d="M296.30,825.00 L298.30,834.50 L294.30,834.50 Z"/>
<path class="f" d="M296.30,860.80 L294.30,851.30 L298.30,851.30 Z"/>
<path class="t" transform="translate(292.02,839.32) scale(1.1807,0.8415)" d="M 0,10 L 3.5,0 L 7,10 M 1.25,6.6 H 5.75" style="stroke-width:1.15;"/>
<rect x="309.20" y="861.30" width="55.05" height="14.70"/>
<path d="M327.20,861.30 V876.00"/>
<path d="M351.20,861.30 V876.00"/>
<path d="M313.00,874.50 L320.00,863.00"/>
<path d="M318.00,874.50 L325.00,863.00"/>
<path class="t" transform="translate(331.02,864.39) scale(0.7993,0.8093)" d="M 5.4,4.5 C 4.8,3.5 3.9,3 2.9,3 C 1.2,3 0,4.5 0,6.5 C 0,8.5 1.2,10 2.9,10 C 3.9,10 4.8,9.5 5.4,8.5 M 13,4.5 C 12.4,3.5 11.5,3 10.5,3 C 8.8,3 7.6,4.5 7.6,6.5 C 7.6,8.5 8.8,10 10.5,10 C 11.5,10 12.4,9.5 13,8.5 M 20.6,4.5 C 20,3.5 19.1,3 18.1,3 C 16.4,3 15.2,4.5 15.2,6.5 C 15.2,8.5 16.4,10 18.1,10 C 19.1,10 20,9.5 20.6,8.5" style="stroke-width:1.15;"/>
<path class="t" transform="translate(354.52,864.52) scale(0.9236,0.7965)" d="M 7,2.3 C 6.3,0.8 5.1,0 3.7,0 C 1.6,0 0,2.1 0,5 C 0,7.9 1.6,10 3.7,10 C 5.1,10 6.3,9.2 7,7.7" style="stroke-width:1.15;"/>
<path class="t" transform="translate(30.19,856.59) scale(1.0228,0.8830)" d="M 6.4,1.6 C 5.8,0.6 4.8,0 3.4,0 C 1.5,0 0.3,1 0.3,2.6 C 0.3,4.2 1.6,4.8 3.4,5.1 C 5.3,5.5 6.6,6.2 6.6,7.7 C 6.6,9.2 5.3,10 3.4,10 C 1.9,10 0.7,9.4 0,8.3 M 15,0 H 8.8 V 10 H 15 M 8.8,5 H 12.8 M 17.2,10 L 20.7,0 L 24.2,10 M 18.45,6.6 H 22.95 M 26.4,0 H 33.4 M 29.9,0 V 10 M 35.6,0 V 10 M 37.8,10 V 0 L 44.8,10 V 0 M 54,2.3 C 53.3,0.8 52.1,0 50.7,0 C 48.6,0 47,2.1 47,5 C 47,7.9 48.6,10 50.7,10 C 52.4,10 54,8.7 54,6.2 V 5.8 H 51" style="stroke-width:1.3;"/>
<path class="t" transform="translate(97.58,856.59) scale(1.0296,0.8830)" d="M 0,10 V 0 H 3.8 C 5.6,0 6.6,1.1 6.6,2.8 C 6.6,4.5 5.6,5.6 3.8,5.6 H 0 M 8.8,0 V 10 H 14.8 M 17,10 L 20.5,0 L 24,10 M 18.25,6.6 H 22.75 M 26.2,10 V 0 L 33.2,10 V 0 M 41.6,0 H 35.4 V 10 H 41.6 M 35.4,5 H 39.4" style="stroke-width:1.3;"/>
<path class="f" d="M143.60,861.30 L149.20,861.30 L146.40,865.80 Z"/>
<path d="M146.40,861.30 V883.70"/>
<rect x="139.30" y="883.70" width="15.90" height="18.80"/>
<path class="t" transform="translate(144.02,889.02) scale(0.9236,0.7965)" d="M 7,2.3 C 6.3,0.8 5.1,0 3.7,0 C 1.6,0 0,2.1 0,5 C 0,7.9 1.6,10 3.7,10 C 5.1,10 6.3,9.2 7,7.7" style="stroke-width:1.15;"/>
<path class="t" transform="translate(189.56,940.31) scale(1.7034,1.3380)" d="M 6.4,1.6 C 5.8,0.6 4.8,0 3.4,0 C 1.5,0 0.3,1 0.3,2.6 C 0.3,4.2 1.6,4.8 3.4,5.1 C 5.3,5.5 6.6,6.2 6.6,7.7 C 6.6,9.2 5.3,10 3.4,10 C 1.9,10 0.7,9.4 0,8.3 M 8.8,0 V 10 M 11,0 V 10 H 13.8 C 16.2,10 17.8,8 17.8,5 C 17.8,2 16.2,0 13.8,0 Z M 26.2,0 H 20 V 10 H 26.2 M 20,5 H 24" style="stroke-width:1.8;"/>
<path class="t" transform="translate(252.06,940.31) scale(1.6512,1.3380)" d="M 0,0 L 3.5,10 L 7,0 M 9.2,0 V 10 M 17.6,0 H 11.4 V 10 H 17.6 M 11.4,5 H 15.4 M 19.8,0 L 22.1,10 L 24.55,0 L 27,10 L 29.3,0" style="stroke-width:1.8;"/>
<path d="M185.50,957.00 H300.50" style="stroke-width:2;"/>
<path d="M482.75,830.50 H597.80 M597.80,830.50 H631.25"/>
<path d="M499.60,830.50 V886.20"/>
<path d="M499.60,876.40 H652.00"/>
<path d="M474.20,886.20 H652.00"/>
<path d="M597.5,830.5 C606,843 607.5,862 602,880 C598,890 593,897 587.5,903"/>
<clipPath id="clipB"><path d="M470,886.2 H597 C593,897 590,900 587.5,905 H470 Z"/></clipPath>
<g clip-path="url(#clipB)">
<circle cx="517.00" cy="892.70" r="11.50"/>
<circle cx="555.75" cy="892.70" r="11.50"/>
<circle cx="594.50" cy="892.70" r="11.50"/>
</g>
<path d="M424.70,892.70 H464.00 M468.00,892.70 H476.00 M481.25,892.70 H506.00 M511.00,892.70 H516.00 M521.00,892.70 H533.00 M537.00,892.70 H544.00 M550.00,892.70 H555.00 M560.00,892.70 H572.00 M576.00,892.70 H584.00"/>
<path d="M424.70,904.20 H467.75 M474.20,904.20 H524.75 M530.00,904.20 H536.00 M541.00,904.20 H580.00 M585.00,904.20 H592.00 M597.00,904.20 H614.00 M619.00,904.20 H625.00 M630.00,904.20 H648.70"/>
<path d="M483.20,830.50 V847.00 M483.20,861.00 V886.20"/>
<path class="f" d="M483.20,831.00 L485.10,844.00 L481.30,844.00 Z"/>
<path class="f" d="M483.20,885.70 L481.30,872.70 L485.10,872.70 Z"/>
<path class="t" transform="translate(473.54,848.29) scale(1.2612,1.1370)" d="M 0,10 L 3.5,0 L 7,10 M 1.25,6.6 H 5.75 M 9.4,2.6 C 9.4,1 10.6,0 12.3,0 C 14,0 15.2,1 15.2,2.6 C 15.2,4 14.2,5 12.4,6.3 L 9.2,10 H 15.4" style="stroke-width:1.2;"/>
<path d="M631.25,830.50 V847.00 M631.25,861.00 V876.40"/>
<path class="f" d="M631.25,831.00 L633.15,843.00 L629.35,843.00 Z"/>
<path class="f" d="M631.25,875.90 L629.35,863.90 L633.15,863.90 Z"/>
<path class="t" transform="translate(621.79,848.54) scale(1.2447,1.0920)" d="M 0,10 L 3.5,0 L 7,10 M 1.25,6.6 H 5.75 M 9.6,0 H 15 L 11.8,4 H 12.4 C 14.2,4 15.2,5.2 15.2,7 C 15.2,8.8 14,10 12.2,10 C 10.8,10 9.8,9.4 9.2,8.6" style="stroke-width:1.2;"/>
<path d="M652.00,855.75 V902.50"/>
<path class="f" d="M652.00,875.90 L650.10,865.90 L653.90,865.90 Z"/>
<path class="f" d="M652.00,886.70 L653.90,896.70 L650.10,896.70 Z"/>
<path d="M652.00,855.75 H660.00"/>
<path class="t" transform="translate(661.04,854.29) scale(1.4886,1.0170)" d="M 7,2.3 C 6.3,0.8 5.1,0 3.7,0 C 1.6,0 0,2.1 0,5 C 0,7.9 1.6,10 3.7,10 C 5.1,10 6.3,9.2 7,7.7" style="stroke-width:1.2;"/>
<path d="M425.75,874.00 V922.50"/>
<path class="f" d="M425.75,892.20 L423.85,882.20 L427.65,882.20 Z"/>
<path class="f" d="M425.75,904.70 L427.65,914.70 L423.85,914.70 Z"/>
<path d="M417.30,922.50 H425.75"/>
<path d="M474.20,872.50 V917.50"/>
<path class="f" d="M474.20,885.70 L472.40,876.70 L476.00,876.70 Z"/>
<path class="f" d="M474.20,904.70 L476.00,913.70 L472.40,913.70 Z"/>
<path d="M467.75,917.50 H474.20"/>
<path class="t" transform="translate(450.74,912.79) scale(1.3789,1.0920)" d="M 0,10 L 3.5,0 L 7,10 M 1.25,6.6 H 5.75 M 9.2,2 L 11.4,0 V 10" style="stroke-width:1.2;"/>
<path class="f" d="M632.90,903.90 L639.50,903.90 L636.20,910.90 Z"/>
<path d="M636.20,910.90 V926.30"/>
<rect x="627.80" y="926.30" width="19.00" height="21.40"/>
<path class="t" transform="translate(633.54,932.04) scale(1.1314,0.9920)" d="M 7,2.3 C 6.3,0.8 5.1,0 3.7,0 C 1.6,0 0,2.1 0,5 C 0,7.9 1.6,10 3.7,10 C 5.1,10 6.3,9.2 7,7.7" style="stroke-width:1.2;"/>
<path class="t" transform="translate(657.56,903.16) scale(1.1144,0.9525)" d="M 6.4,1.6 C 5.8,0.6 4.8,0 3.4,0 C 1.5,0 0.3,1 0.3,2.6 C 0.3,4.2 1.6,4.8 3.4,5.1 C 5.3,5.5 6.6,6.2 6.6,7.7 C 6.6,9.2 5.3,10 3.4,10 C 1.9,10 0.7,9.4 0,8.3 M 15,0 H 8.8 V 10 H 15 M 8.8,5 H 12.8 M 17.2,10 L 20.7,0 L 24.2,10 M 18.45,6.6 H 22.95 M 26.4,0 H 33.4 M 29.9,0 V 10 M 35.6,0 V 10 M 37.8,10 V 0 L 44.8,10 V 0 M 54,2.3 C 53.3,0.8 52.1,0 50.7,0 C 48.6,0 47,2.1 47,5 C 47,7.9 48.6,10 50.7,10 C 52.4,10 54,8.7 54,6.2 V 5.8 H 51" style="stroke-width:1.25;"/>
<path class="t" transform="translate(730.76,903.16) scale(1.1244,0.9525)" d="M 0,10 V 0 H 3.8 C 5.6,0 6.6,1.1 6.6,2.8 C 6.6,4.5 5.6,5.6 3.8,5.6 H 0 M 8.8,0 V 10 H 14.8 M 17,10 L 20.5,0 L 24,10 M 18.25,6.6 H 22.75 M 26.2,10 V 0 L 33.2,10 V 0 M 41.6,0 H 35.4 V 10 H 41.6 M 35.4,5 H 39.4" style="stroke-width:1.25;"/>
<rect x="343.20" y="922.50" width="74.10" height="18.30"/>
<path d="M370.50,922.50 V940.80"/>
<path d="M401.50,922.50 V940.80"/>
<path d="M347.25,936.30 H366.75 A9.75,9.00 0 0 0 347.25,936.30"/>
<path class="t" transform="translate(374.77,928.27) scale(1.0479,0.7965)" d="M 5.6,0 V 10 M 5.6,4.6 C 5,3.6 4.1,3 3,3 C 1.2,3 0,4.5 0,6.5 C 0,8.5 1.2,10 3,10 C 4.1,10 5,9.4 5.6,8.4 M 13.4,0 V 10 M 13.4,4.6 C 12.8,3.6 11.9,3 10.8,3 C 9,3 7.8,4.5 7.8,6.5 C 7.8,8.5 9,10 10.8,10 C 11.9,10 12.8,9.4 13.4,8.4 M 21.2,0 V 10 M 21.2,4.6 C 20.6,3.6 19.7,3 18.6,3 C 16.8,3 15.6,4.5 15.6,6.5 C 15.6,8.5 16.8,10 18.6,10 C 19.7,10 20.6,9.4 21.2,8.4" style="stroke-width:1.15;"/>
<path class="t" transform="translate(405.52,927.02) scale(1.0307,0.9215)" d="M 7,2.3 C 6.3,0.8 5.1,0 3.7,0 C 1.6,0 0,2.1 0,5 C 0,7.9 1.6,10 3.7,10 C 5.1,10 6.3,9.2 7,7.7" style="stroke-width:1.15;"/>
<path class="t" transform="translate(347.04,947.34) scale(1.1819,0.9870)" d="M 0.2,2.6 C 0.2,1 1.4,0 3.1,0 C 4.8,0 6,1 6,2.6 C 6,4 5,5 3.2,6.3 L 0,10 H 6.2 M 13.8,0 H 9.2 L 8.7,4.5 C 9.3,3.9 10.2,3.6 11.2,3.6 C 13,3.6 14.2,4.9 14.2,6.8 C 14.2,8.7 13,10 11.2,10 C 9.8,10 8.8,9.4 8.2,8.6 M 16.4,0 L 23.2,10 M 23.2,0 L 16.4,10" style="stroke-width:1.2;"/>
<path class="t" transform="translate(463.31,981.31) scale(1.5257,1.4130)" d="M 0,0 V 10 H 2.8 C 5.2,10 6.8,8 6.8,5 C 6.8,2 5.2,0 2.8,0 Z M 15.2,0 H 9 V 10 H 15.2 M 9,5 H 13 M 17.4,0 H 24.4 M 20.9,0 V 10 M 26.6,0 V 10 M 28.8,10 L 32.3,0 L 35.8,10 M 30.05,6.6 H 34.55 M 38,0 V 10 H 44" style="stroke-width:1.8;"/>
<path class="t" transform="translate(548.81,981.31) scale(1.5727,1.4130)" d="M 0,0 V 10 H 4 C 5.6,10 6.6,9 6.6,7.5 C 6.6,6 5.6,5 4,5 H 0 M 0,0 H 3.6 C 5.1,0 6,0.9 6,2.5 C 6,4.1 5.1,5 3.6,5" style="stroke-width:1.8;"/>
<path class="t" transform="translate(579.51,979.87) scale(2.1038,1.7555)" d="M 2.6,-1.2 C 0.9,0.8 0,3 0,5.2 C 0,7.4 0.9,9.6 2.6,11.6" style="stroke-width:1.7;"/>
<path class="t" transform="translate(588.76,980.76) scale(1.7783,1.4720)" d="M 0.2,2.6 C 0.2,1 1.4,0 3.1,0 C 4.8,0 6,1 6,2.6 C 6,4 5,5 3.2,6.3 L 0,10 H 6.2" style="stroke-width:1.7;"/>
<circle class="dot" cx="605.0" cy="985.6" r="1.15"/><circle class="dot" cx="605.0" cy="995.0" r="1.15"/>
<path class="t" transform="translate(612.76,980.76) scale(1.8955,1.4720)" d="M 0,2 L 2.2,0 V 10" style="stroke-width:1.7;"/>
<path class="t" transform="translate(625.47,979.87) scale(1.7577,1.7555)" d="M 0,-1.2 C 1.7,0.8 2.6,3 2.6,5.2 C 2.6,7.4 1.7,9.6 0,11.6" style="stroke-width:1.7;"/>
<path d="M462.00,1003.00 H630.50" style="stroke-width:2;"/>
</svg></body></html>
